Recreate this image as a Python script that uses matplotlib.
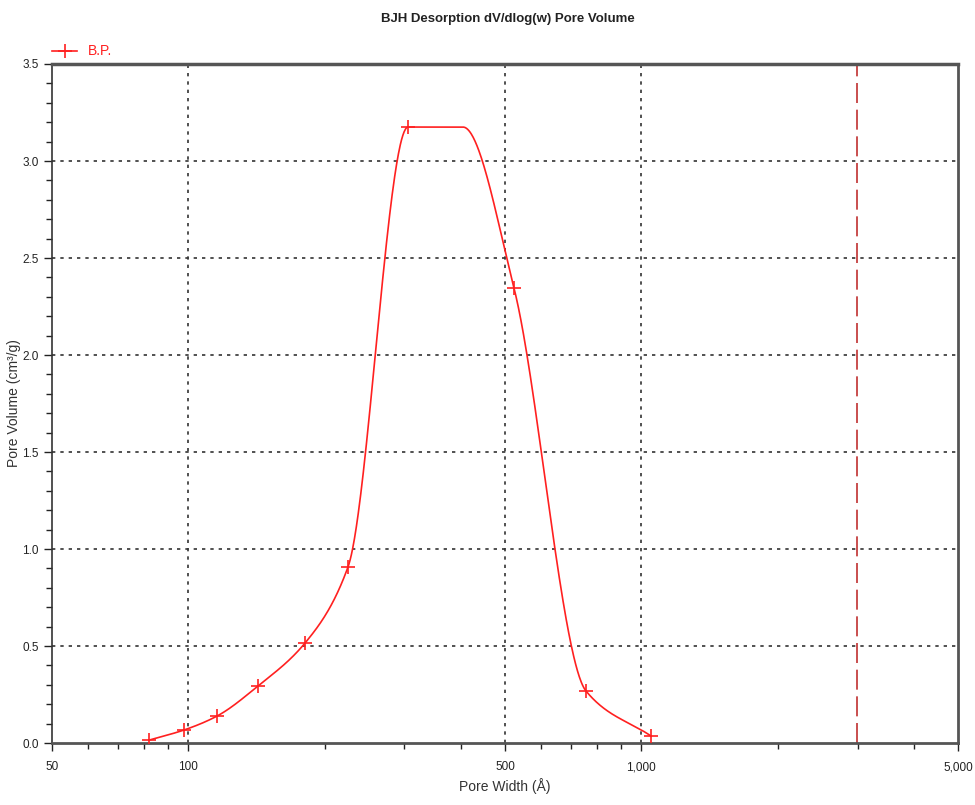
import numpy as np
import matplotlib
matplotlib.use("Agg")
import matplotlib.pyplot as plt
from matplotlib.ticker import FixedLocator, NullFormatter, FixedFormatter

plt.rcParams['font.family'] = ['Liberation Sans Narrow', 'Liberation Sans', 'DejaVu Sans']

# Data
pore_width = [81.9, 97.8, 115.7, 142.5, 180.9, 225.1, 305.5, 523.4, 754.7, 1050.0]
pore_volume = [0.015, 0.067, 0.139, 0.294, 0.515, 0.907, 3.175, 2.345, 0.268, 0.036]
# curve vertex at the end of the flat top (no marker)
plateau_width = 403.8
plateau_volume = 3.175
ref_line_width = 2990.0

x_ticks = [50, 100, 500, 1000, 5000]
x_tick_labels = ["50", "100", "500", "1,000", "5,000"]
x_minor = [60, 70, 80, 90, 200, 300, 400, 600, 700, 800, 900, 2000, 3000, 4000]
y_ticks = [0.0, 0.5, 1.0, 1.5, 2.0, 2.5, 3.0, 3.5]
y_tick_labels = ["0.0", "0.5", "1.0", "1.5", "2.0", "2.5", "3.0", "3.5"]


def pchip(x, y, xn):
    x = np.asarray(x, float); y = np.asarray(y, float)
    h = np.diff(x); d = np.diff(y) / h
    n = len(x); m = np.zeros(n)
    for k in range(1, n - 1):
        if d[k - 1] * d[k] <= 0:
            m[k] = 0
        else:
            w1 = 2 * h[k] + h[k - 1]; w2 = h[k] + 2 * h[k - 1]
            m[k] = (w1 + w2) / (w1 / d[k - 1] + w2 / d[k])
    m[0] = d[0]; m[-1] = d[-1]
    out = np.empty_like(xn)
    for i, xv in enumerate(xn):
        k = min(max(np.searchsorted(x, xv) - 1, 0), n - 2)
        t = (xv - x[k]) / h[k]
        h00 = 2 * t**3 - 3 * t**2 + 1; h10 = t**3 - 2 * t**2 + t
        h01 = -2 * t**3 + 3 * t**2; h11 = t**3 - t**2
        out[i] = h00 * y[k] + h10 * h[k] * m[k] + h01 * y[k + 1] + h11 * h[k] * m[k + 1]
    return out


cx = list(pore_width[:7]) + [plateau_width] + list(pore_width[7:])
cy = list(pore_volume[:7]) + [plateau_volume] + list(pore_volume[7:])
lx = np.log10(cx)
xs = np.linspace(lx[0], lx[-1], 800)
ys = pchip(lx, cy, xs)

fig = plt.figure(figsize=(9.75, 8.05), dpi=100)
ax = fig.add_axes([0.0533, 0.077, 0.9293, 0.8435])
ax.set_xscale('log')
ax.set_xlim(50, 5000)
ax.set_ylim(0, 3.5)

red = '#ff2020'
ax.plot(10**xs, ys, color=red, lw=1.2, zorder=3)
ax.plot(pore_width, pore_volume, linestyle='none', marker='+', color=red,
        markersize=10, markeredgewidth=1.2, zorder=4)
ax.axvline(ref_line_width, color='#c03030', lw=1.2, ls=(0, (12, 4)), zorder=2)

ax.xaxis.set_major_locator(FixedLocator(x_ticks))
ax.xaxis.set_major_formatter(FixedFormatter(x_tick_labels))
ax.xaxis.set_minor_locator(FixedLocator(x_minor))
ax.xaxis.set_minor_formatter(NullFormatter())
ax.yaxis.set_major_locator(FixedLocator(y_ticks))
ax.yaxis.set_major_formatter(FixedFormatter(y_tick_labels))
ax.yaxis.set_minor_locator(FixedLocator(np.arange(0, 3.5, 0.1)))

ax.tick_params(which='major', direction='out', length=6, width=1, labelsize=8.5, colors='#222222')
ax.tick_params(axis='x', which='major', pad=7)
ax.tick_params(which='minor', direction='out', length=4, width=1, colors='#222222')

for gx in [100, 500, 1000]:
    ax.axvline(gx, color='#333333', lw=1.2, ls=(0, (2, 3)), zorder=1)
for gy in [0.5, 1.0, 1.5, 2.0, 2.5, 3.0]:
    ax.axhline(gy, color='#333333', lw=1.2, ls=(0, (2, 3)), zorder=1)

for s in ax.spines.values():
    s.set_color('#333333')
    s.set_linewidth(1.2)
ax.spines['top'].set_linewidth(2.5)
ax.spines['top'].set_color('#555555')
ax.spines['right'].set_linewidth(2.0)
ax.spines['right'].set_color('#555555')
ax.spines['bottom'].set_linewidth(2.0)
ax.spines['bottom'].set_color('#555555')

ax.set_xlabel('Pore Width (Å)', fontsize=10, color='#333333')
ax.xaxis.set_label_coords(0.5, -0.052)
ax.set_ylabel('Pore Volume (cm³/g)', fontsize=10, color='#333333')
ax.yaxis.set_label_coords(-0.034, 0.5)
fig.text(0.521, 0.977, 'BJH Desorption dV/dlog(w) Pore Volume', ha='center', va='center',
         fontsize=9.5, fontweight='bold', color='#222222')

handle = plt.Line2D([], [], color=red, lw=1.2, marker='+', markersize=10, markeredgewidth=1.2)
ax.legend(handles=[handle], labels=['B.P.'],
          loc='lower left', bbox_to_anchor=(-0.006, 1.0), frameon=False, fontsize=10,
          labelcolor=red, handlelength=1.8, handletextpad=0.8, borderaxespad=0.0)

fig.savefig('out.png', dpi=100)
